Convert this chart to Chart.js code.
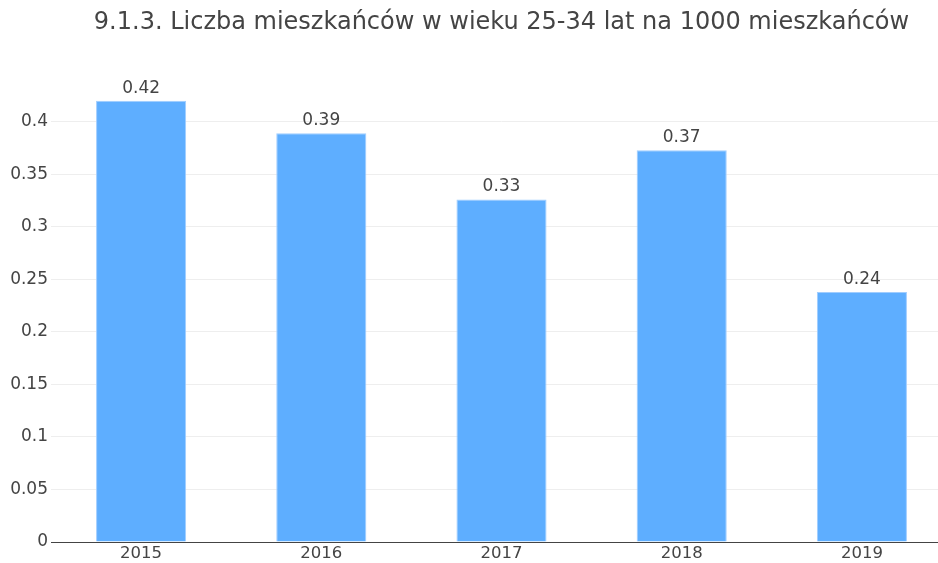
<!DOCTYPE html>
<html>
<head>
<meta charset="utf-8">
<script src="https://cdn.jsdelivr.net/npm/chart.js@4/dist/chart.umd.min.js"></script>
<style>
  html, body { margin: 0; padding: 0; background: #fff; overflow: hidden; }
  #wrap { width: 952px; height: 563px; }
</style>
</head>
<body>
<div id="wrap"><canvas id="chart" width="952" height="563"></canvas></div>
<script>
/* data */
const years = ["2015", "2016", "2017", "2018", "2019"];
const values = [0.42, 0.389, 0.326, 0.373, 0.238];
const chartTitle = "9.1.3. Liczba mieszkańców w wieku 25-34 lat na 1000 mieszkańców";

const FONT = "'DejaVu Sans', Verdana, sans-serif";
const TEXT = "#444";

/* value labels above bars */
const barLabels = {
  id: "barLabels",
  afterDatasetsDraw(chart) {
    const ctx = chart.ctx;
    const meta = chart.getDatasetMeta(0);
    ctx.save();
    ctx.font = "17px " + FONT;
    ctx.fillStyle = TEXT;
    ctx.textAlign = "center";
    ctx.textBaseline = "bottom";
    meta.data.forEach((bar, i) => {
      ctx.fillText(values[i].toFixed(2), bar.x, bar.y - 4);
    });
    ctx.restore();
  }
};

new Chart(document.getElementById("chart"), {
  type: "bar",
  data: {
    labels: years,
    datasets: [{
      data: values,
      backgroundColor: "rgba(94, 174, 255, 1)",
      borderColor: "rgba(160, 205, 255, 1)",
      borderWidth: 1,
      categoryPercentage: 1,
      barPercentage: 0.5
    }]
  },
  options: {
    responsive: false,
    animation: false,
    layout: { padding: 0 },
    plugins: {
      legend: { display: false },
      tooltip: { enabled: false },
      title: {
        display: true,
        text: chartTitle,
        fullSize: false,
        color: TEXT,
        font: { family: FONT, size: 24, weight: "normal" },
        padding: { top: 8, bottom: 43 }
      }
    },
    scales: {
      x: {
        grid: { display: false, drawTicks: false },
        border: { color: "#444", width: 1 },
        ticks: {
          color: TEXT,
          font: { family: FONT, size: 16.5 },
          padding: 2,
          maxRotation: 0
        },
        afterFit: s => { s.height = 21; }
      },
      y: {
        min: 0,
        max: 0.44,
        grid: {
          color: c => (c.tick.value > 0.4001 ? "rgba(0,0,0,0)" : "#eeeeee"),
          drawTicks: false
        },
        border: { display: false },
        ticks: {
          stepSize: 0.05,
          color: TEXT,
          font: { family: FONT, size: 17 },
          padding: 3,
          callback: v => (v > 0.4001 ? "" : String(Math.round(v * 100) / 100))
        },
        afterFit: s => { s.width = 51; }
      }
    }
  },
  plugins: [barLabels]
});
</script>
</body>
</html>
